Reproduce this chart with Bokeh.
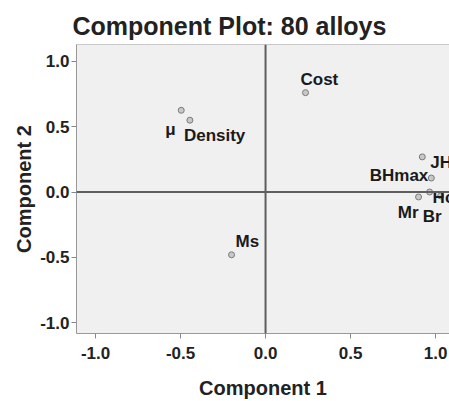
from bokeh.plotting import figure
from bokeh.models import ColumnDataSource, FixedTicker, PrintfTickFormatter, Span
from bokeh.core.properties import value
from bokeh.embed import file_html
from bokeh.resources import INLINE

# ---- data (loadings) ----
labels = ["Cost", "\u03bc", "Density", "JHc", "BHmax", "Hc", "Mr", "Br", "Ms"]
comp1 = [0.235, -0.496, -0.445, 0.922, 0.975, 0.965, 0.90, 1.03, -0.20]
comp2 = [0.761, 0.626, 0.55, 0.269, 0.107, 0.0, -0.038, -0.03, -0.481]
tick_values = [-1.0, -0.5, 0.0, 0.5, 1.0]

# ---- label placement (screen pixels relative to each point) ----
label_dx = [-5, -16, -6, 8, -3, 3, 0, -18, 4]
label_dy = [-13, 19, 15, 6, -3, 5, 16, 21, -13]
label_align = ["left", "left", "left", "left", "right", "left", "right", "left", "left"]

FONT = "Liberation Sans"

src = ColumnDataSource(dict(x=comp1, y=comp2, label=labels,
                            dx=label_dx, dy=label_dy, align=label_align))

p = figure(width=449, height=401, output_backend="svg", toolbar_location=None,
           x_range=(-1.112, 1.082), y_range=(-1.084, 1.13),
           min_border_left=76, min_border_right=0, min_border_top=44,
           min_border_bottom=67,
           title="Component Plot: 80 alloys")

p.background_fill_color = "#f0f0f0"
p.border_fill_color = "white"
p.outline_line_color = None
p.grid.visible = False

p.title.text_font = FONT
p.title.text_font_size = "25px"
p.title.text_font_style = "bold"
p.title.text_color = "#222222"
p.title.align = "left"
p.title.offset = -4

for ax in (p.xaxis[0], p.yaxis[0]):
    ax.ticker = FixedTicker(ticks=tick_values)
    ax.formatter = PrintfTickFormatter(format="%.1f")
    ax.minor_tick_line_color = None
    ax.major_tick_in = 0
    ax.major_tick_out = 5
    ax.major_tick_line_color = "#888888"
    ax.axis_line_color = "#999999"
    ax.major_label_text_font = FONT
    ax.major_label_text_font_size = "17px"
    ax.major_label_text_font_style = "bold"
    ax.major_label_text_color = "#222222"
    ax.axis_label_text_font = FONT
    ax.axis_label_text_font_size = "20px"
    ax.axis_label_text_font_style = "bold"
    ax.axis_label_text_color = "#222222"

p.xaxis.axis_label = "Component 1"
p.yaxis.axis_label = "Component 2"
p.xaxis.major_label_standoff = 8
p.xaxis.axis_label_standoff = 15
p.yaxis.major_label_standoff = 2
p.yaxis.axis_label_standoff = 2

# top border of the frame
p.add_layout(Span(location=1.13, dimension="width", line_color="#999999", line_width=1))

p.scatter("x", "y", source=src, size=6, fill_color="#c8c8c8", line_color="#7a7a7a", line_width=1)

p.add_layout(Span(location=0, dimension="width", line_color="#5e5e5e", line_width=2))
p.add_layout(Span(location=0, dimension="height", line_color="#5e5e5e", line_width=2))

p.text("x", "y", text="label", source=src, x_offset="dx", y_offset="dy",
       text_align="align", text_baseline="alphabetic",
       text_font=value(FONT), text_font_size="17px", text_font_style="bold",
       text_color="#1a1a1a")

open("out.html", "w").write(file_html(p, INLINE))
